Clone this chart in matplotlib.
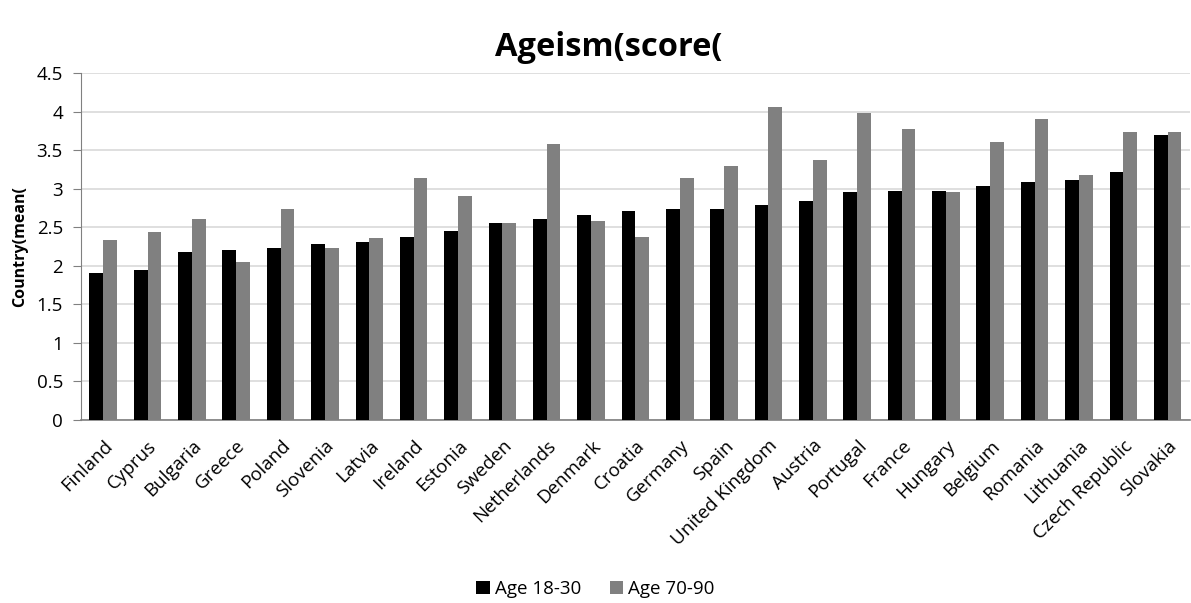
import numpy as np
import matplotlib
matplotlib.use("Agg")
import matplotlib.pyplot as plt

plt.rcParams['font.family'] = ['Open Sans', 'DejaVu Sans']

countries = ['Finland', 'Cyprus', 'Bulgaria', 'Greece', 'Poland', 'Slovenia', 'Latvia',
             'Ireland', 'Estonia', 'Sweden', 'Netherlands', 'Denmark', 'Croatia', 'Germany',
             'Spain', 'United Kingdom', 'Austria', 'Portugal', 'France', 'Hungary', 'Belgium',
             'Romania', 'Lithuania', 'Czech Republic', 'Slovakia']
age_18_30 = [1.91, 1.94, 2.18, 2.21, 2.23, 2.28, 2.31, 2.37, 2.45, 2.55, 2.60, 2.66, 2.71,
             2.74, 2.74, 2.79, 2.84, 2.95, 2.97, 2.97, 3.03, 3.08, 3.11, 3.21, 3.69]
age_70_90 = [2.33, 2.44, 2.60, 2.05, 2.73, 2.23, 2.36, 3.14, 2.90, 2.55, 3.58, 2.58, 2.37,
             3.14, 3.29, 4.06, 3.37, 3.98, 3.77, 2.95, 3.61, 3.90, 3.18, 3.74, 3.74]

fig = plt.figure(figsize=(11.91, 6.03), dpi=100)
ax = fig.add_axes([0.068, 0.3035, 0.931, 0.5755])

x = np.arange(len(countries))
w = 0.31
ax.bar(x - w / 2, age_18_30, w, color='black', label='Age 18-30', zorder=3)
ax.bar(x + w / 2, age_70_90, w, color='#808080', label='Age 70-90', zorder=3)

ax.set_xlim(-0.5, len(countries) - 0.5)
ax.set_ylim(0, 4.5)
ax.set_yticks(np.arange(0, 4.51, 0.5))
ax.set_yticklabels(['0', '0.5', '1', '1.5', '2', '2.5', '3', '3.5', '4', '4.5'], fontsize=13.5)
ax.yaxis.grid(True, color='#d9d9d9', linewidth=1.2, zorder=0)
ax.set_xticks(x)
ax.set_xticklabels(countries, rotation=45, ha='right', rotation_mode='anchor', fontsize=13.5)
ax.tick_params(axis='x', length=0, pad=12)
ax.tick_params(axis='y', length=6, color='#808080', pad=7)

for s in ['top', 'right']:
    ax.spines[s].set_visible(False)
ax.spines['left'].set_color('#808080')
ax.spines['bottom'].set_color('#808080')
ax.spines['bottom'].set_linewidth(1.2)

ax.set_ylabel('Country(mean(', fontsize=11.5, fontweight='bold', labelpad=6)
fig.text(0.511, 0.922, 'Ageism(score(', ha='center', va='center', fontsize=23.5, fontweight='bold')

fig.legend(loc='center', bbox_to_anchor=(0.5, 0.023), ncol=2, frameon=False, fontsize=13.5,
           handlelength=0.7, handleheight=0.7, handletextpad=0.3, columnspacing=1.5)

fig.savefig('out.png', dpi=100)
